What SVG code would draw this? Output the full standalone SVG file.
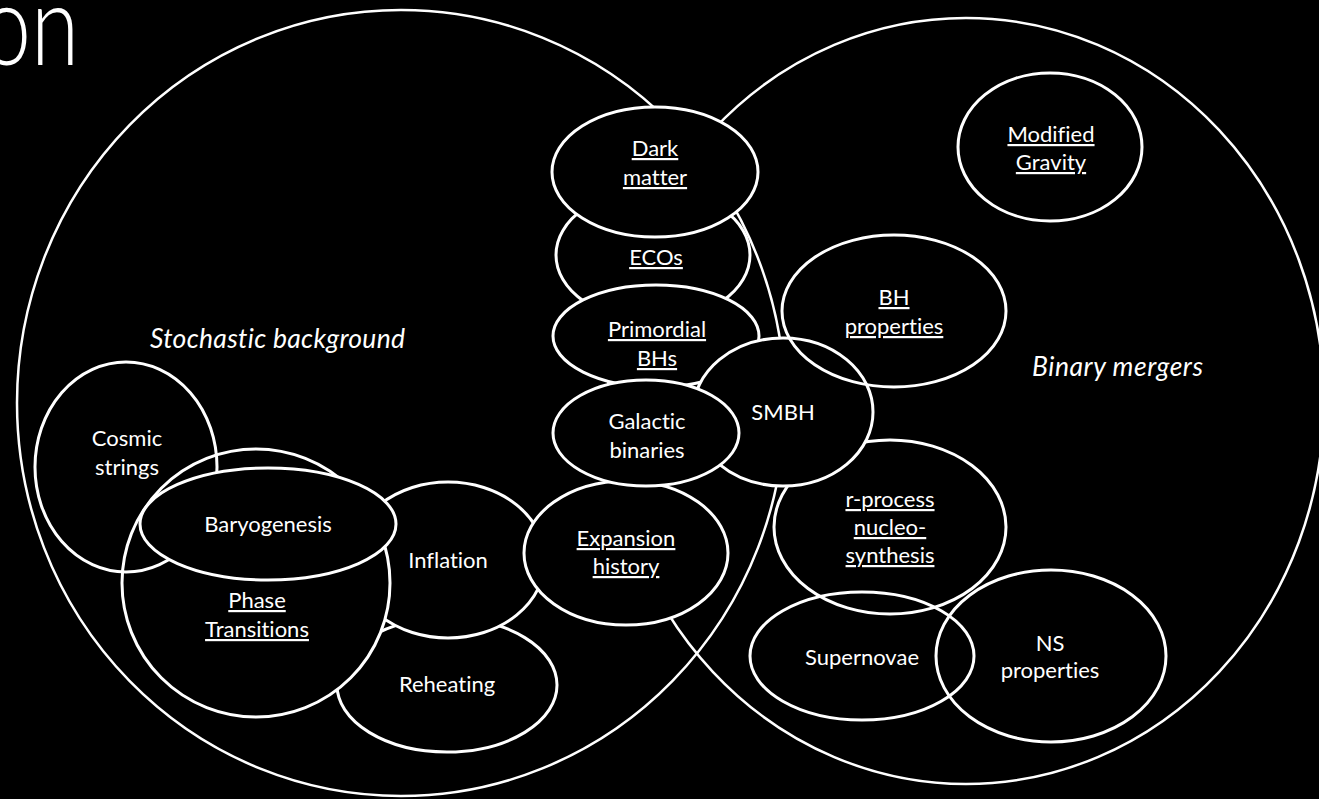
<svg xmlns="http://www.w3.org/2000/svg" width="1319" height="799" viewBox="0 0 1319 799">
<style>
text{font-variant-ligatures:none;font-feature-settings:"liga" 0,"clig" 0}
.big{fill:none;stroke:#fff;stroke-width:2.5}
.n{fill:#000;stroke:#fff;stroke-width:3}
.o{fill:none;stroke:#fff;stroke-width:3}
.t{fill:#fff;font-family:Lato,"Open Sans","Liberation Sans",sans-serif;font-size:22px;text-anchor:middle}
.u{text-decoration:underline}
.lab{fill:#fff;font-family:Lato,"Open Sans","Liberation Sans",sans-serif;font-size:26.5px;font-style:italic}
</style>
<rect width="1319" height="799" fill="#000"/>
<text transform="translate(79,65) scale(0.78,1)" text-anchor="end" font-family="Lato,'Open Sans',sans-serif" font-weight="300" font-size="112" fill="#fff">on</text>
<g id="connectors">
<ellipse id="stochastic" class="big" cx="401" cy="403" rx="384" ry="393"/>
<ellipse id="binary" class="big" cx="966" cy="401" rx="358" ry="383"/>
</g>
<text class="lab" x="150" y="348" textLength="255">Stochastic background</text>
<text class="lab" x="1032" y="376" textLength="171">Binary mergers</text>
<g id="reheating"><ellipse class="n" cx="447" cy="685" rx="110" ry="67"/><text class="t" x="447" y="692">Reheating</text></g>
<g id="inflation"><ellipse class="n" cx="448" cy="560" rx="97" ry="78"/><text class="t" x="448" y="568">Inflation</text></g>
<g id="expansion"><ellipse class="n" cx="626" cy="553" rx="102" ry="72"/><text class="t u" x="626" y="546">Expansion</text><text class="t u" x="626" y="574">history</text></g>
<g id="phase"><circle class="n" cx="256" cy="583" r="134"/><text class="t u" x="257" y="608">Phase</text><text class="t u" x="257" y="637">Transitions</text></g>
<g id="cosmic"><ellipse class="o" cx="126" cy="467" rx="91" ry="105"/><text class="t" x="127" y="446">Cosmic</text><text class="t" x="127" y="475">strings</text></g>
<g id="baryogenesis"><ellipse class="n" cx="268" cy="524" rx="128" ry="56"/><text class="t" x="268" y="532">Baryogenesis</text></g>
<g id="ecos"><ellipse class="n" cx="653" cy="255" rx="97" ry="66"/><text class="t u" x="656" y="265">ECOs</text></g>
<g id="darkmatter"><ellipse class="n" cx="655" cy="172" rx="103" ry="65"/><text class="t u" x="655" y="156">Dark</text><text class="t u" x="655" y="185">matter</text></g>
<g id="primordial"><ellipse class="n" cx="656" cy="336" rx="103" ry="51"/><text class="t u" x="657" y="337">Primordial</text><text class="t u" x="657" y="366">BHs</text></g>
<g id="rprocess"><ellipse class="n" cx="890" cy="527" rx="116" ry="87"/><text class="t u" x="890" y="507">r-process</text><text class="t u" x="890" y="535">nucleo-</text><text class="t u" x="890" y="563">synthesis</text></g>
<g id="smbh"><ellipse class="n" cx="783" cy="412" rx="90" ry="74"/><text class="t" x="783" y="420">SMBH</text></g>
<g id="galactic"><ellipse class="n" cx="646" cy="433" rx="93" ry="53"/><text class="t" x="647" y="429">Galactic</text><text class="t" x="647" y="458">binaries</text></g>
<g id="bhprops"><ellipse class="o" cx="894" cy="311" rx="112" ry="76"/><text class="t u" x="894" y="305">BH</text><text class="t u" x="894" y="334">properties</text></g>
<g id="modgrav"><ellipse class="n" cx="1050" cy="147" rx="92" ry="74"/><text class="t u" x="1051" y="142">Modified</text><text class="t u" x="1051" y="170">Gravity</text></g>
<g id="supernovae"><ellipse class="o" cx="862" cy="656" rx="112" ry="64"/><text class="t" x="862" y="665">Supernovae</text></g>
<g id="nsprops"><ellipse class="o" cx="1051" cy="656" rx="115" ry="86"/><text class="t" x="1050" y="651">NS</text><text class="t" x="1050" y="678">properties</text></g>
</svg>
